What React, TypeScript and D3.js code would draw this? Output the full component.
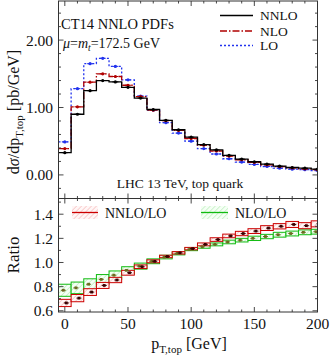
import React from "react";
import * as d3 from "d3";

const binCenters = [0, 10, 20, 30, 40, 50, 60, 70, 80, 90, 100, 110, 120, 130, 140, 150, 160, 170, 180, 190, 200];
const nnlo = [0.33, 0.9, 1.25, 1.4, 1.38, 1.3, 1.14, 0.97, 0.81, 0.67, 0.56, 0.45, 0.37, 0.29, 0.235, 0.195, 0.16, 0.13, 0.11, 0.1, 0.085];
const nlo = [0.39, 1.01, 1.375, 1.5, 1.46, 1.33, 1.16, 0.96, 0.805, 0.66, 0.54, 0.44, 0.355, 0.28, 0.225, 0.185, 0.15, 0.123, 0.103, 0.09, 0.078];
const lo = [0.49, 1.28, 1.65, 1.73, 1.61, 1.41, 1.17, 0.96, 0.775, 0.62, 0.5, 0.39, 0.31, 0.24, 0.19, 0.155, 0.125, 0.1, 0.085, 0.077, 0.065];
const ratioNNLO = [0.665, 0.705, 0.755, 0.81, 0.855, 0.915, 0.965, 1.01, 1.05, 1.08, 1.115, 1.15, 1.19, 1.22, 1.24, 1.26, 1.285, 1.3, 1.315, 1.305, 1.32];
const ratioNNLOErr = [0.03, 0.03, 0.028, 0.025, 0.022, 0.02, 0.015, 0.012, 0.01, 0.01, 0.01, 0.012, 0.015, 0.015, 0.018, 0.02, 0.02, 0.022, 0.025, 0.025, 0.025];
const ratioNLO = [0.77, 0.79, 0.82, 0.86, 0.895, 0.935, 0.97, 1.01, 1.045, 1.075, 1.11, 1.13, 1.15, 1.17, 1.185, 1.2, 1.215, 1.23, 1.24, 1.25, 1.255];
const ratioNLOErr = [0.05, 0.048, 0.045, 0.04, 0.035, 0.03, 0.025, 0.02, 0.015, 0.012, 0.012, 0.012, 0.012, 0.015, 0.015, 0.018, 0.018, 0.02, 0.02, 0.02, 0.02];
const xTicks = [0, 50, 100, 150, 200];
const yTopTicks = [0, 1, 2];
const yTopLabels = ["0.00", "1.00", "2.00"];
const yRatTicks = [0.6, 0.8, 1.0, 1.2, 1.4];
const yRatLabels = ["0.6", "0.8", "1.0", "1.2", "1.4"];

const L = 58.5, R = 317.5, T1 = 1, B1 = 198.5, B2 = 312;
const x = d3.scaleLinear().domain([-5, 200]).range([L, R]);
const yTop = d3.scaleLinear().domain([-0.35, 2.58]).range([B1, T1]);
const yRat = d3.scaleLinear().domain([0.59, 1.53]).range([B2, B1]);

const FONT = "'Liberation Serif', 'DejaVu Serif', serif";
const RED = "#cc0000";
const DRED = "#b00000";
const BLUE = "#2233ee";
const GREEN = "#11bb11";

function stepPath(vals: number[], y: d3.ScaleLinear<number, number>) {
  const pts: [number, number][] = [];
  binCenters.forEach((c, i) => {
    pts.push([c - 5, vals[i]]);
    pts.push([c + 5, vals[i]]);
  });
  return d3.line<[number, number]>().x((d) => x(d[0])).y((d) => y(d[1]))(pts) || "";
}

function Frame({ top, bottom, y, major, minor }: any) {
  const xMinor = d3.range(0, 201, 10);
  const ticks: any[] = [];
  xMinor.forEach((v) => {
    const len = v % 50 === 0 ? 5 : 2.5;
    ticks.push(<line key={"xb" + v} x1={x(v)} x2={x(v)} y1={bottom} y2={bottom - len} />);
    ticks.push(<line key={"xt" + v} x1={x(v)} x2={x(v)} y1={top} y2={top + len} />);
  });
  minor.forEach((v: number) => {
    const isMajor = major.some((m: number) => Math.abs(m - v) < 1e-6);
    const len = isMajor ? 5 : 2.5;
    ticks.push(<line key={"yl" + v} x1={L} x2={L + len} y1={y(v)} y2={y(v)} />);
    ticks.push(<line key={"yr" + v} x1={R} x2={R - len} y1={y(v)} y2={y(v)} />);
  });
  return (
    <g stroke="#333" strokeWidth={0.9}>
      {ticks}
      <rect x={L} y={top} width={R - L} height={bottom - top} fill="none" stroke="#333" strokeWidth={1} />
    </g>
  );
}

export default function App() {
  const topMinor = d3.range(-0.2, 2.58, 0.2).map((v) => Math.round(v * 10) / 10);
  const ratMinor = d3.range(0.6, 1.53, 0.1).map((v) => Math.round(v * 10) / 10);

  const series = [
    { vals: lo, color: BLUE, dash: "2,2", pt: BLUE },
    { vals: nlo, color: DRED, dash: "7,2,1.5,2", pt: DRED },
    { vals: nnlo, color: "#000", dash: undefined, pt: "#000" },
  ];

  const ratios = [
    { vals: ratioNLO, err: ratioNLOErr, color: GREEN, hatch: "url(#hatchG)", pt: "#6b6b20", dx: -1.5 },
    { vals: ratioNNLO, err: ratioNNLOErr, color: RED, hatch: "url(#hatchR)", pt: "#3a0000", dx: 1.5 },
  ];

  return (
    <svg width={332} height={356} style={{ position: "absolute", left: 0, top: 0, background: "#fff" }} fontFamily={FONT}>
      <defs>
        <clipPath id="clipTop">
          <rect x={L} y={T1} width={R - L} height={B1 - T1} />
        </clipPath>
        <clipPath id="clipRat">
          <rect x={L} y={B1} width={R - L} height={B2 - B1} />
        </clipPath>
        <pattern id="hatchR" width={3.5} height={3.5} patternUnits="userSpaceOnUse" patternTransform="rotate(45)">
          <rect width={3.5} height={3.5} fill="#fff6f6" />
          <line x1={0} y1={0} x2={0} y2={3.5} stroke="#f3a0a0" strokeWidth={0.9} />
        </pattern>
        <pattern id="hatchG" width={3.5} height={3.5} patternUnits="userSpaceOnUse" patternTransform="rotate(45)">
          <rect width={3.5} height={3.5} fill="#f5fff5" />
          <line x1={0} y1={0} x2={0} y2={3.5} stroke="#a0e6a0" strokeWidth={0.9} />
        </pattern>
      </defs>
      <rect x={0} y={0} width={332} height={356} fill="#fff" />

      {/* top panel */}
      <g clipPath="url(#clipTop)">
        {series.map((s, k) => (
          <g key={k}>
            <path d={stepPath(s.vals, yTop)} fill="none" stroke={s.color} strokeWidth={1.3} strokeDasharray={s.dash} />
            {binCenters.map((c, i) => (
              <g key={i}>
                <line x1={x(c) - 3} x2={x(c) + 3} y1={yTop(s.vals[i])} y2={yTop(s.vals[i])} stroke={s.pt} strokeWidth={1} />
                <circle cx={x(c)} cy={yTop(s.vals[i])} r={1.6} fill={s.pt} />
              </g>
            ))}
          </g>
        ))}
      </g>
      <Frame top={T1} bottom={B1} y={yTop} major={yTopTicks} minor={topMinor} />

      {/* ratio panel */}
      <g clipPath="url(#clipRat)">
        {ratios.map((r, k) => (
          <g key={k}>
            {binCenters.map((c, i) => (
              <rect
                key={i}
                x={x(c - 5)}
                y={yRat(r.vals[i] + r.err[i])}
                width={x(c + 5) - x(c - 5)}
                height={yRat(r.vals[i] - r.err[i]) - yRat(r.vals[i] + r.err[i])}
                fill={r.hatch}
                stroke={r.color}
                strokeWidth={1}
              />
            ))}
          </g>
        ))}
        {ratios.map((r, k) => (
          <g key={"p" + k}>
            {binCenters.map((c, i) => (
              <g key={i}>
                <line x1={x(c) + r.dx - 2.5} x2={x(c) + r.dx + 2.5} y1={yRat(r.vals[i])} y2={yRat(r.vals[i])} stroke={r.pt} strokeWidth={1} />
                <rect x={x(c) + r.dx - 1.4} y={yRat(r.vals[i]) - 1.4} width={2.8} height={2.8} fill={r.pt} />
              </g>
            ))}
          </g>
        ))}
      </g>
      <Frame top={B1} bottom={B2} y={yRat} major={yRatTicks} minor={ratMinor} />

      {/* tick labels */}
      <g fontSize={15.5} fill="#111" textAnchor="end">
        {yTopTicks.map((v, i) => (
          <text key={v} x={53} y={yTop(v)} dy="0.35em">{yTopLabels[i]}</text>
        ))}
        {yRatTicks.map((v, i) => (
          <text key={v} x={53} y={yRat(v)} dy="0.35em">{yRatLabels[i]}</text>
        ))}
      </g>
      <g fontSize={15.5} fill="#111" textAnchor="middle">
        {xTicks.map((v) => (
          <text key={v} x={x(v)} y={329}>{v}</text>
        ))}
      </g>

      {/* axis titles */}
      <text transform="translate(19,112) rotate(-90)" textAnchor="middle" fontSize={16} fill="#111">
        d<tspan fontStyle="italic">σ</tspan>/dp<tspan fontSize={11} dy={4}>T,top</tspan>
        <tspan dy={-4}> [pb/GeV]</tspan>
      </text>
      <text transform="translate(19,255) rotate(-90)" textAnchor="middle" fontSize={17} fill="#111">Ratio</text>
      <text x={189} y={349} textAnchor="middle" fontSize={16} fill="#111">
        p<tspan fontSize={11} dy={4}>T,top</tspan>
        <tspan dy={-4}> [GeV]</tspan>
      </text>

      {/* annotations */}
      <text x={61} y={29} fontSize={14.5} fill="#111">CT14 NNLO PDFs</text>
      <text x={63} y={48} fontSize={14} fill="#111">
        <tspan fontStyle="italic">μ</tspan>=<tspan fontStyle="italic">m</tspan>
        <tspan fontStyle="italic" fontSize={9.5} dy={3}>t</tspan>
        <tspan dy={-3}>=172.5 GeV</tspan>
      </text>
      <text x={180} y={188} textAnchor="middle" fontSize={13.5} fill="#111">LHC 13 TeV, top quark</text>

      {/* legend top */}
      <g fontSize={13.5} fill="#111">
        <line x1={220} x2={253} y1={15.5} y2={15.5} stroke="#000" strokeWidth={1.3} />
        <text x={260} y={20}>NNLO</text>
        <line x1={220} x2={253} y1={31} y2={31} stroke={DRED} strokeWidth={1.3} strokeDasharray="7,2,1.5,2" />
        <text x={260} y={35.5}>NLO</text>
        <line x1={220} x2={253} y1={45.5} y2={45.5} stroke={BLUE} strokeWidth={1.3} strokeDasharray="2,2" />
        <text x={260} y={50}>LO</text>
      </g>

      {/* legend ratio */}
      <g fontSize={14} fill="#111">
        <rect x={72} y={206} width={26} height={13} fill="url(#hatchR)" />
        <line x1={72} x2={98} y1={212.5} y2={212.5} stroke={RED} strokeWidth={1.3} />
        <text x={105} y={217.5}>NNLO/LO</text>
        <rect x={201} y={206} width={27} height={13} fill="url(#hatchG)" />
        <line x1={201} x2={228} y1={212.5} y2={212.5} stroke={GREEN} strokeWidth={1.3} />
        <text x={235} y={217.5}>NLO/LO</text>
      </g>
    </svg>
  );
}
